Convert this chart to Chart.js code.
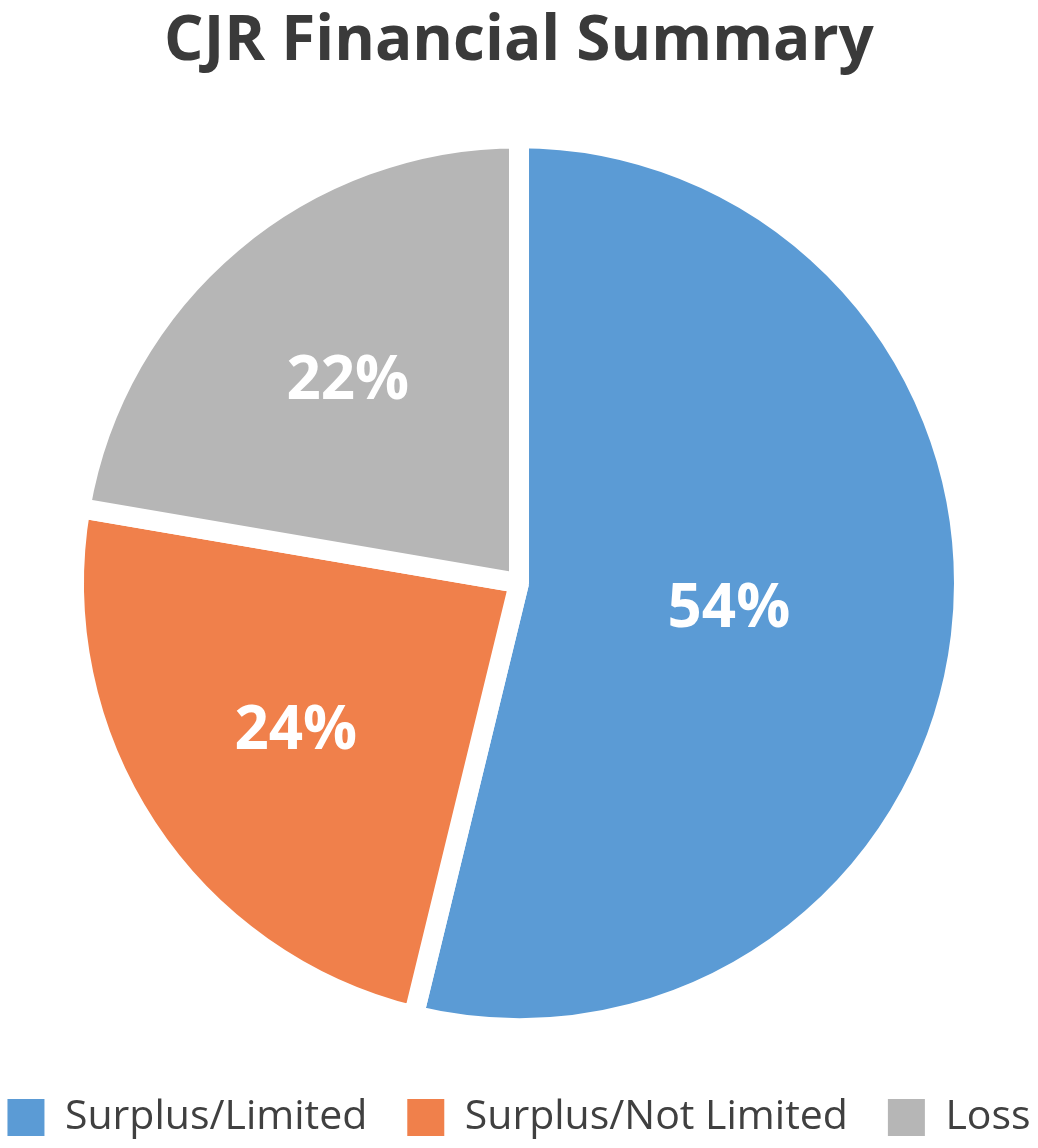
<!DOCTYPE html>
<html>
<head>
<meta charset="utf-8">
<script src="https://cdn.jsdelivr.net/npm/chart.js@4.4.1/dist/chart.umd.min.js"></script>
<style>
  html, body { margin: 0; padding: 0; background: #fff; overflow: hidden; }
  /* canvas is a bit wider than the window so the legend stays on one row */
  #wrap { position: absolute; left: -61px; top: 0; width: 1160px; height: 1148px; }
</style>
</head>
<body>
<div id="wrap"><canvas id="chart"></canvas></div>
<script>
const categories = ['Surplus/Limited', 'Surplus/Not Limited', 'Loss'];
const shares = [53.8, 23.9, 22.3];
const sliceColors = ['#5B9BD5', '#F0804B', '#B6B6B6'];

// draws the % labels inside each slice
const sliceLabels = {
    id: 'sliceLabels',
    afterDatasetsDraw(chart, args, opts) {
        const ctx = chart.ctx;
        const meta = chart.getDatasetMeta(0);
        ctx.save();
        ctx.fillStyle = '#ffffff';
        ctx.font = 'bold 60px "Open Sans"';
        ctx.textAlign = 'center';
        ctx.textBaseline = 'middle';
        meta.data.forEach(function (arc, i) {
            const p = arc.getProps(['x', 'y', 'startAngle', 'endAngle', 'outerRadius'], true);
            const mid = (p.startAngle + p.endAngle) / 2;
            const r = p.outerRadius * opts.radii[i];
            ctx.fillText(Math.round(shares[i]) + '%', p.x + Math.cos(mid) * r, p.y + Math.sin(mid) * r + 2);
        });
        ctx.restore();
    }
};

document.addEventListener('DOMContentLoaded', function () {
    const ctx = document.getElementById('chart').getContext('2d');
    new Chart(ctx, {
        type: 'pie',
        data: {
            labels: categories,
            datasets: [{
                data: shares,
                backgroundColor: sliceColors,
                borderColor: '#ffffff',
                borderWidth: 20,
                hoverBorderWidth: 20
            }]
        },
        options: {
            responsive: true,
            maintainAspectRatio: false,
            animation: false,
            radius: 445,
            layout: { padding: 0 },
            plugins: {
                title: {
                    display: true,
                    text: 'CJR Financial Summary',
                    color: '#3a3a3a',
                    font: { family: '"Open Sans"', size: 62, weight: 'bold', lineHeight: 1.2 },
                    padding: { top: 5, bottom: 30 }
                },
                legend: {
                    position: 'bottom',
                    labels: {
                        color: '#404040',
                        font: { family: '"Open Sans"', size: 41 },
                        boxWidth: 37,
                        boxHeight: 37,
                        padding: 40,
                        // no white outline on the legend squares
                        generateLabels: function (chart) {
                            return Chart.overrides.pie.plugins.legend.labels.generateLabels(chart)
                                .map(function (item) { item.lineWidth = 0; return item; });
                        }
                    }
                },
                tooltip: { enabled: false },
                sliceLabels: { radii: [0.475, 0.60, 0.597] }
            }
        },
        plugins: [sliceLabels]
    });
});
</script>
</body>
</html>
